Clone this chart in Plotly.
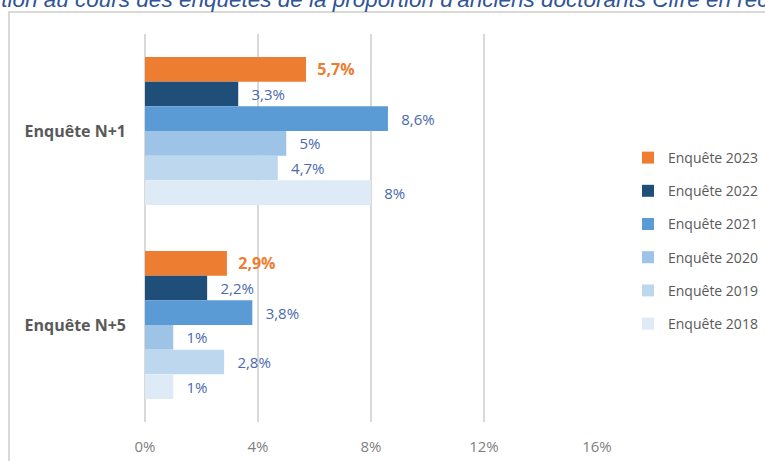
import plotly.graph_objects as go

categories = ["Enquête N+1", "Enquête N+5"]
series_names = ["Enquête 2023", "Enquête 2022", "Enquête 2021", "Enquête 2020", "Enquête 2019", "Enquête 2018"]
values_2023 = [5.7, 2.9]
values_2022 = [3.3, 2.2]
values_2021 = [8.6, 3.8]
values_2020 = [5, 1]
values_2019 = [4.7, 2.8]
values_2018 = [8, 1]
x_ticks = [0, 4, 8, 12, 16]
x_tick_labels = ["0%", "4%", "8%", "12%", "16%"]
title_text = "Évolution au cours des enquêtes de la proportion d'anciens doctorants Cifre en recherche publique"

series_values = [values_2023, values_2022, values_2021, values_2020, values_2019, values_2018]
colors = ["#ED7D31", "#1F4E79", "#5B9BD5", "#9DC3E6", "#BDD7EE", "#DEEBF7"]
label_colors = ["#ED7D31", "#4A69AE", "#4A69AE", "#4A69AE", "#4A69AE", "#4A69AE"]

FONT = "Open Sans"

def fmt(v):
    return f"{v:g}".replace(".", ",") + "%"

fig = go.Figure()
for i, (name, vals) in enumerate(zip(series_names, series_values)):
    if i == 0:
        txt = ["\u00a0\u00a0" + f"<b>{fmt(v)}</b>" for v in vals]
    else:
        txt = ["\u00a0\u00a0\u2009" + fmt(v) for v in vals]
    fig.add_trace(go.Bar(
        y=categories, x=vals, name=name, orientation="h",
        marker=dict(color=colors[i], line=dict(width=0)),
        text=txt, textposition="outside", cliponaxis=False,
        textfont=dict(family=FONT, size=16 if i == 0 else 15, color=label_colors[i]),
        legendgroup=name,
    ))

L, R, T, B = 145, 168, 34, 39
W, H = 765, 461
pw, ph = W - L - R, H - T - B

def px_x(p):
    return (p - L) / pw

def px_y(p):
    return (H - B - p) / ph

fig.update_layout(
    width=W, height=H,
    margin=dict(l=L, r=R, t=T, b=B, pad=0, autoexpand=False),
    paper_bgcolor="white", plot_bgcolor="white",
    barmode="group", bargap=0.237, bargroupgap=0,
    font=dict(family=FONT, color="#595959"),
    showlegend=True,
    legend=dict(
        x=px_x(628), y=px_y(142), xanchor="left", yanchor="top",
        font=dict(family=FONT, size=14, color="#595959"),
        traceorder="grouped", tracegroupgap=12,
        bgcolor="rgba(0,0,0,0)",
    ),
    xaxis=dict(
        range=[0, 16], tickvals=x_ticks, ticktext=x_tick_labels,
        showgrid=True, gridcolor="#D9D9D9", gridwidth=1.5,
        zeroline=True, zerolinecolor="#D9D9D9", zerolinewidth=1.5,
        showline=False, ticks="", ticklabelstandoff=14,
        tickfont=dict(family=FONT, size=15, color="#7F7F7F"),
        fixedrange=True,
    ),
    yaxis=dict(
        autorange="reversed", showgrid=False, showline=False, ticks="",
        ticklabelstandoff=18,
        tickfont=dict(family=FONT, size=16, color="#595959", weight="bold"),
        fixedrange=True,
    ),
    shapes=[dict(
        type="rect", xref="paper", yref="paper",
        x0=px_x(9), x1=px_x(800), y0=px_y(500), y1=px_y(12),
        line=dict(color="#D9D9D9", width=2), fillcolor="rgba(0,0,0,0)", layer="below",
    )],
    annotations=[dict(
        text=f"<i>{title_text}</i>", xref="paper", yref="paper",
        x=px_x(-57), y=px_y(14), xanchor="left", yanchor="bottom",
        showarrow=False, font=dict(family="Liberation Sans", size=22.5, color="#2F5597"),
    )],
)

fig.write_html("out.html")
